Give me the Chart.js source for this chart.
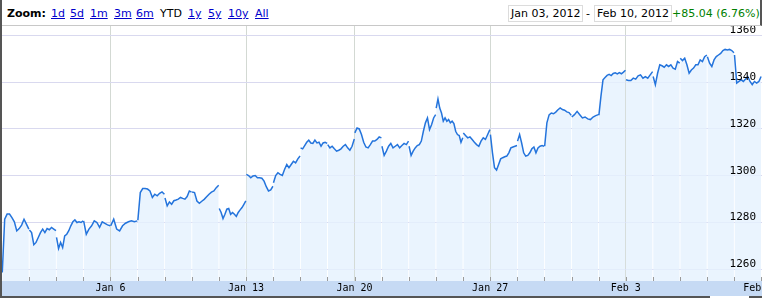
<!DOCTYPE html>
<html>
<head>
<meta charset="utf-8">
<script src="https://cdn.jsdelivr.net/npm/chart.js@4.4.1/dist/chart.umd.min.js"></script>
<style>
  html, body { margin: 0; padding: 0; background: #fff; }
  #wrap { position: relative; width: 762px; height: 298px; overflow: hidden;
          font-family: "DejaVu Sans", Verdana, sans-serif; font-size: 11px; color: #000; }
  #top { position: absolute; left: 0; top: 0; width: 760px; height: 25px; border-bottom: 1px solid #c8c8c8;
         border-right: 2px solid #555; }
  .z { position: absolute; top: 7px; line-height: 14px; white-space: nowrap; }
  .z.lnk { color: #0000cc; text-decoration: underline; }
  .box { position: absolute; top: 5px; height: 15px; line-height: 15px; border: 1px solid #dcdcdc;
         padding: 0 2px; white-space: nowrap; }
  #plot { position: absolute; left: 2px; top: 26px; }
  #lb { position: absolute; left: 0; top: 0; width: 2px; height: 298px; background: #555; }
  #bb { position: absolute; left: 0; top: 296px; width: 762px; height: 2px; background: #555; }
  #notch { position: absolute; left: 710px; top: 296px; width: 39px; height: 2px; background: #fff; }
</style>
</head>
<body>
<div id="wrap">
  <div id="top">
    <span class="z" style="left:7px;font-weight:bold">Zoom:</span>
    <span class="z lnk" style="left:51px">1d</span>
    <span class="z lnk" style="left:70px">5d</span>
    <span class="z lnk" style="left:90px">1m</span>
    <span class="z lnk" style="left:114px">3m</span>
    <span class="z lnk" style="left:136px">6m</span>
    <span class="z" style="left:160px">YTD</span>
    <span class="z lnk" style="left:188px">1y</span>
    <span class="z lnk" style="left:208px">5y</span>
    <span class="z lnk" style="left:228px">10y</span>
    <span class="z lnk" style="left:255px">All</span>
    <span class="box" style="left:508px">Jan 03, 2012</span>
    <span class="z" style="left:586px">-</span>
    <span class="box" style="left:594px">Feb 10, 2012</span>
    <span class="z" style="left:672px;color:#008000">+85.04 (6.76%)</span>
  </div>
  <canvas id="plot" width="760" height="270"></canvas>
  <div id="lb"></div>
  <div id="bb"></div>
  <div id="notch"></div>
</div>
<script>
/* ---------- data: one array of prices per trading session ---------- */
const days = ["Jan 3", "Jan 4", "Jan 5", "Jan 6", "Jan 9", "Jan 10", "Jan 11", "Jan 12", "Jan 13",
  "Jan 17", "Jan 18", "Jan 19", "Jan 20", "Jan 23", "Jan 24", "Jan 25", "Jan 26", "Jan 27",
  "Jan 30", "Jan 31", "Feb 1", "Feb 2", "Feb 3", "Feb 6", "Feb 7", "Feb 8", "Feb 9", "Feb 10"];

const sessions = [
  [1258.6, 1281.4, 1283.6, 1283.6, 1282.1, 1280.3, 1276.4, 1277.4, 1278.9, 1281.4, 1279.3, 1277.2],
  [1276.8, 1275.7, 1270.5, 1271.5, 1273.6, 1275.7, 1277.2, 1275.7, 1277.4, 1276.9, 1277.9, 1277.2, 1276.5],
  [1273.6, 1268.9, 1271.5, 1269.3, 1274.3, 1275.0, 1276.5, 1278.6, 1280.3, 1281.1, 1280.0, 1280.3, 1280.0, 1280.7],
  [1280.7, 1275.0, 1277.2, 1278.6, 1280.7, 1280.0, 1277.9, 1280.3, 1279.6, 1279.0, 1278.6],
  [1278.6, 1281.4, 1277.2, 1276.4, 1278.6, 1279.7, 1280.3, 1280.7, 1280.3, 1280.7],
  [1281.0, 1292.8, 1294.5, 1294.5, 1294.3, 1293.5, 1290.7, 1292.1, 1291.4, 1292.5, 1293.1, 1292.1],
  [1290.5, 1287.1, 1288.8, 1287.8, 1289.3, 1289.6, 1290.0, 1290.7, 1290.3, 1290.0, 1291.1, 1293.5, 1293.0],
  [1293.0, 1292.8, 1289.2, 1288.2, 1289.1, 1289.9, 1291.0, 1292.1, 1293.0, 1293.5, 1294.9, 1295.9],
  [1286.0, 1284.3, 1281.7, 1283.5, 1285.7, 1286.0, 1283.5, 1284.3, 1283.5, 1282.6, 1284.3, 1285.4, 1286.4, 1287.8, 1289.2],
  [1300.6, 1300.1, 1299.1, 1299.9, 1300.1, 1299.1, 1299.1, 1298.9, 1297.7, 1295.3, 1293.5, 1293.9, 1295.5],
  [1297.0, 1300.1, 1301.3, 1300.6, 1300.1, 1302.7, 1304.8, 1303.4, 1304.8, 1306.2, 1305.5, 1307.2, 1308.4],
  [1311.9, 1311.5, 1312.9, 1314.3, 1315.2, 1314.0, 1313.8, 1315.2, 1314.0, 1314.3, 1312.6, 1314.0, 1314.3, 1313.8],
  [1313.3, 1311.9, 1312.6, 1311.5, 1310.5, 1310.9, 1311.5, 1312.6, 1313.3, 1311.9, 1310.9, 1312.6, 1315.7],
  [1318.3, 1320.4, 1320.0, 1317.6, 1314.3, 1312.3, 1311.9, 1313.3, 1314.8, 1314.8, 1315.5, 1316.6, 1316.2],
  [1312.6, 1308.7, 1310.5, 1312.6, 1313.8, 1311.9, 1312.6, 1313.3, 1311.9, 1312.9, 1313.8, 1313.3, 1314.8],
  [1312.6, 1308.7, 1310.5, 1311.9, 1312.9, 1313.3, 1314.8, 1319.0, 1322.6, 1324.7, 1319.7, 1321.8, 1324.7, 1326.1],
  [1328.9, 1332.8, 1328.9, 1326.8, 1323.3, 1324.7, 1323.3, 1324.0, 1322.6, 1323.3, 1322.3, 1319.0, 1317.6, 1317.2, 1314.3, 1316.2],
  [1318.3, 1317.2, 1316.2, 1316.6, 1315.5, 1314.3, 1313.3, 1312.6, 1314.8, 1316.2, 1315.5, 1317.6, 1319.7],
  [1317.6, 1309.8, 1303.4, 1302.4, 1304.8, 1307.2, 1307.7, 1308.1, 1308.4, 1309.8, 1311.9, 1312.3, 1312.6, 1312.9],
  [1314.8, 1317.6, 1314.0, 1309.8, 1308.4, 1308.7, 1309.8, 1311.5, 1312.3, 1309.8, 1311.9, 1312.6, 1312.9, 1312.6],
  [1312.6, 1322.6, 1326.0, 1326.8, 1326.5, 1327.2, 1328.2, 1329.0, 1328.3, 1328.0, 1327.3, 1327.0, 1325.8],
  [1325.1, 1326.1, 1327.5, 1326.1, 1324.7, 1325.1, 1324.3, 1324.0, 1325.1, 1325.7, 1326.1],
  [1325.9, 1334.0, 1341.0, 1342.0, 1342.9, 1343.3, 1342.8, 1343.7, 1344.0, 1343.5, 1344.1, 1343.6, 1344.3, 1345.1],
  [1341.0, 1340.7, 1340.7, 1341.7, 1341.3, 1342.7, 1343.1, 1341.7, 1342.4, 1341.7, 1343.1, 1344.5],
  [1342.4, 1338.9, 1343.8, 1347.4, 1347.0, 1346.4, 1347.4, 1346.7, 1347.4, 1346.0, 1345.5, 1348.8, 1348.1],
  [1350.2, 1349.2, 1350.2, 1347.4, 1343.8, 1345.2, 1346.0, 1347.4, 1347.4, 1349.5, 1348.8, 1350.9, 1351.6],
  [1350.9, 1348.1, 1346.7, 1349.5, 1350.9, 1351.6, 1352.3, 1353.5, 1354.0, 1353.8, 1354.0, 1353.5, 1352.6],
  [1351.6, 1339.6, 1340.3, 1341.0, 1340.3, 1341.3, 1342.4, 1340.3, 1338.9, 1340.3, 1339.6, 1340.3, 1342.4]
];

// week-end labels sit on the close of that session
const tickDays = [4, 9, 13, 18, 23, 28];
const tickLabels = ["Jan 6", "Jan 13", "Jan 20", "Jan 27", "Feb 3", "Feb 10"];
const priceTicks = [1260, 1280, 1300, 1320, 1340, 1360];

/* ---------- points: each session spread over its own slot, tiny gap between ---------- */
const points = [];
sessions.forEach((vals, d) => {
  vals.forEach((v, i) => points.push({ x: d + 0.01 + 0.98 * i / (vals.length - 1), y: v }));
  points.push({ x: d + 1, y: null });
});

const bandPlugin = {
  id: "band",
  beforeDraw(chart) {
    const { ctx, chartArea, width, height } = chart;
    ctx.save();
    ctx.fillStyle = "#c6daf4";
    ctx.fillRect(0, chartArea.bottom, width, height - chartArea.bottom);
    ctx.restore();
  },
  afterDatasetsDraw(chart) {
    const { ctx, chartArea } = chart;
    const xs = chart.scales.x;
    ctx.save();
    ctx.strokeStyle = "#9a9a9a";
    ctx.lineWidth = 1;
    ctx.beginPath();
    for (let d = 1; d <= days.length; d++) {
      const px = Math.round(xs.getPixelForValue(d)) + 0.5;
      ctx.moveTo(px, chartArea.bottom - 4);
      ctx.lineTo(px, chartArea.bottom);
    }
    ctx.stroke();
    ctx.restore();
  }
};

new Chart(document.getElementById("plot"), {
  type: "line",
  data: {
    datasets: [{
      data: points,
      borderColor: "#2474dc",
      borderWidth: 1.5,
      backgroundColor: "rgba(229,241,254,0.82)",
      fill: "start",
      pointRadius: 0,
      tension: 0,
      spanGaps: false
    }]
  },
  options: {
    responsive: false,
    animation: false,
    devicePixelRatio: 1,
    layout: { autoPadding: false, padding: 0 },
    plugins: { legend: { display: false }, tooltip: { enabled: false } },
    scales: {
      x: {
        type: "linear",
        min: 0,
        max: 760 / 27.12,
        afterBuildTicks: s => { s.ticks = tickDays.map(v => ({ value: v })); },
        afterFit: s => { s.height = 15; s.paddingLeft = 0; s.paddingRight = 0; },
        ticks: {
          callback: (v, i) => tickLabels[i],
          font: { family: "DejaVu Sans Mono", size: 10 },
          color: "#000",
          padding: 1.5,
          maxRotation: 0,
          autoSkip: false
        },
        grid: {
          color: c => (c.tick && c.tick.value === 28 ? "rgba(0,0,0,0)" : "#d3d9d3"),
          drawTicks: false
        },
        border: { display: false }
      },
      y: {
        position: "right",
        min: 1255,
        max: 1364,
        afterBuildTicks: s => { s.ticks = priceTicks.map(v => ({ value: v })); },
        afterFit: s => { s.width = 0; s.paddingTop = 0; s.paddingBottom = 0; },
        ticks: {
          callback: v => String(v),
          mirror: true,
          padding: -6,
          labelOffset: -5,
          font: { family: "DejaVu Sans Mono", size: 11 },
          color: "#000",
          z: 1
        },
        grid: { color: "#d9d9ef", drawTicks: false },
        border: { display: false }
      }
    }
  },
  plugins: [bandPlugin]
});
</script>
</body>
</html>
